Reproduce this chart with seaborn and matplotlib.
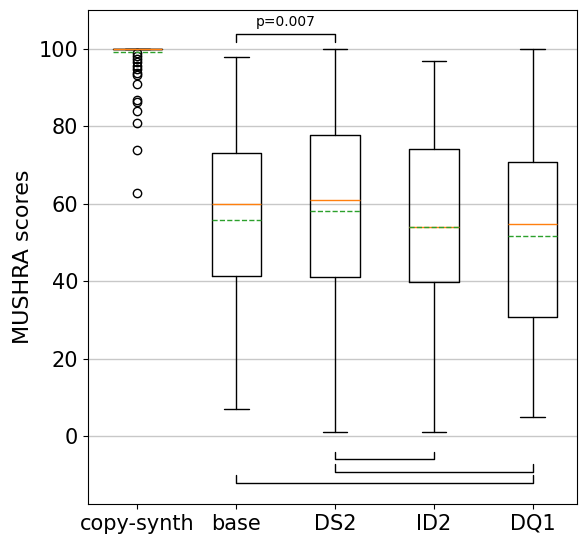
import matplotlib.pyplot as plt
import seaborn as sns

# Box statistics (MUSHRA scores)
systems = ["copy-synth", "base", "DS2", "ID2", "DQ1"]
whisker_low = [100, 7, 1, 1, 5]
q1 = [100, 41.4, 41.0, 39.7, 30.9]
median = [100, 60.0, 61.0, 54.1, 54.9]
mean = [99.2, 55.8, 58.2, 53.9, 51.8]
q3 = [100, 73.2, 77.8, 74.2, 70.9]
whisker_high = [100, 98, 100, 96.9, 100]
copy_synth_fliers = [99.0, 98.2, 97.4, 96.5, 95.6, 94.8, 93.9, 93.3,
                     90.9, 86.8, 86.2, 84.0, 81.0, 74.0, 62.8]

# significance brackets: (left system, right system, height, label)
bracket_left = ["base", "DS2", "DS2", "base"]
bracket_right = ["DS2", "ID2", "DQ1", "DQ1"]
bracket_height = [103.8, -6.0, -9.2, -12.0]
bracket_label = ["p=0.007", "", "", ""]

sns.set_style("ticks")
plt.rcParams["font.family"] = ["DejaVu Sans"]
plt.rcParams["axes.edgecolor"] = "black"
plt.rcParams["axes.labelcolor"] = "black"
plt.rcParams["xtick.color"] = "black"
plt.rcParams["ytick.color"] = "black"
plt.rcParams["text.color"] = "black"

stats = []
for i, name in enumerate(systems):
    stats.append({
        "label": name,
        "whislo": whisker_low[i],
        "q1": q1[i],
        "med": median[i],
        "mean": mean[i],
        "q3": q3[i],
        "whishi": whisker_high[i],
        "fliers": copy_synth_fliers if i == 0 else [],
    })

fig = plt.figure(figsize=(5.79, 5.37), dpi=100)
ax = fig.add_axes([0.152, 0.0615, 0.845, 0.9195])

ax.bxp(stats, showmeans=True, meanline=True,
       boxprops=dict(color="black", linewidth=1.0),
       whiskerprops=dict(color="black", linewidth=1.0),
       capprops=dict(color="black", linewidth=1.0),
       medianprops=dict(color="C1", linewidth=1.0, zorder=3),
       meanprops=dict(color="C2", linestyle="--", linewidth=1.0, zorder=3),
       flierprops=dict(marker="o", markerfacecolor="none",
                       markeredgecolor="black", markersize=6))

# brackets
pos = {name: i + 1 for i, name in enumerate(systems)}
for left, right, h, lab in zip(bracket_left, bracket_right, bracket_height, bracket_label):
    leg = -2.1 if h > 50 else 2.0
    x1, x2 = pos[left], pos[right]
    ax.plot([x1, x1, x2, x2], [h + leg, h, h, h + leg], color="black", linewidth=1.0)
    if lab:
        ax.text((x1 + x2) / 2, h + 1.3, lab, ha="center", va="bottom", fontsize=10)

ax.set_xlim(0.5, 5.45)
ax.set_ylim(-17.5, 110)
ax.set_yticks([0, 20, 40, 60, 80, 100])
ax.yaxis.grid(True, color="#c8c8c8", linewidth=1.0)
ax.set_axisbelow(True)
ax.tick_params(axis="both", labelsize=15, length=3.5, width=0.8)
ax.set_ylabel("MUSHRA scores", fontsize=16)
for s in ax.spines.values():
    s.set_linewidth(0.8)

fig.savefig("out.png", dpi=100)
